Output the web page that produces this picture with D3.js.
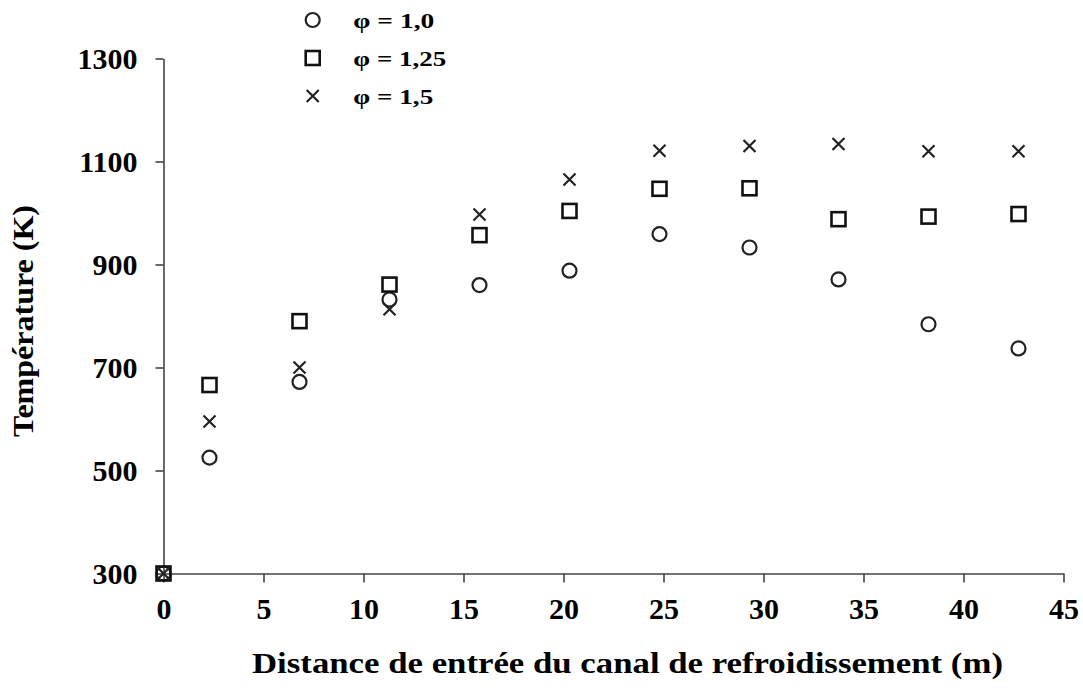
<!DOCTYPE html>
<html>
<head>
<meta charset="utf-8">
<script src="https://cdn.jsdelivr.net/npm/d3@7"></script>
<style>
  html, body { margin: 0; padding: 0; background: #fff; }
  svg { display: block; }
  text { font-family: "Liberation Serif", "Times New Roman", serif; font-weight: bold; fill: #000; }
</style>
</head>
<body>
<svg id="chart" width="1083" height="688"></svg>
<script>
// ---- data ----
const distances = [0, 2.3, 6.8, 11.3, 15.8, 20.3, 24.8, 29.3, 33.75, 38.25, 42.75];
const tempPhi10  = [300, 525, 672, 832, 860, 888, 959, 933, 871, 784, 737];
const tempPhi125 = [300, 666, 790, 861, 957, 1004, 1047, 1048, 988, 993, 998];
const tempPhi15  = [300, 595, 700, 813, 997, 1065, 1121, 1130, 1134, 1120, 1120];
const seriesLabels = ["φ = 1,0", "φ = 1,25", "φ = 1,5"];
const xTicks = [0, 5, 10, 15, 20, 25, 30, 35, 40, 45];
const yTicks = [300, 500, 700, 900, 1100, 1300];
const xTitle = "Distance de entrée du canal de refroidissement (m)";
const yTitle = "Température (K)";

const svg = d3.select("#chart");
const ink = "#222";
const axisCol = "#444";

const x = d3.scaleLinear().domain([0, 45]).range([163.5, 1063.5]);
const y = d3.scaleLinear().domain([300, 1300]).range([573.5, 58.5]);

// axes
const gx = svg.append("g").attr("transform", `translate(0,${y(300)})`)
  .call(d3.axisBottom(x).tickValues(xTicks).tickSize(9).tickSizeOuter(0).tickFormat(d3.format("d")));
gx.select(".domain").attr("stroke", axisCol).attr("stroke-width", 1.6);
gx.selectAll(".tick line").attr("stroke", axisCol).attr("stroke-width", 1.6);
gx.selectAll(".tick text").attr("y", 45).attr("dy", 0).attr("font-size", 30)
  .attr("font-family", "Liberation Serif").attr("font-weight", "bold").attr("fill", "#000");

const gy = svg.append("g").attr("transform", `translate(${x(0)},0)`)
  .call(d3.axisLeft(y).tickValues(yTicks).tickSize(8).tickSizeOuter(0).tickPadding(18).tickFormat(d3.format("d")));
gy.select(".domain").attr("stroke", axisCol).attr("stroke-width", 1.6);
gy.selectAll(".tick line").attr("stroke", axisCol).attr("stroke-width", 1.6);
gy.selectAll(".tick text").attr("dy", "0.34em").attr("font-size", 30)
  .attr("font-family", "Liberation Serif").attr("font-weight", "bold").attr("fill", "#000");

// titles
svg.append("text").attr("x", 627.5).attr("y", 673).attr("text-anchor", "middle")
  .attr("font-size", 30).attr("textLength", 751).attr("lengthAdjust", "spacingAndGlyphs")
  .text(xTitle);
svg.append("text").attr("transform", "translate(33,321) rotate(-90)").attr("text-anchor", "middle")
  .attr("font-size", 29).attr("textLength", 232).attr("lengthAdjust", "spacingAndGlyphs")
  .text(yTitle);

// marker drawers
function drawCircle(g, cx, cy) {
  g.append("circle").attr("cx", cx).attr("cy", cy).attr("r", 7)
    .attr("fill", "none").attr("stroke", ink).attr("stroke-width", 2.2);
}
function drawSquare(g, cx, cy) {
  g.append("rect").attr("x", cx - 7).attr("y", cy - 7).attr("width", 14).attr("height", 14)
    .attr("fill", "none").attr("stroke", "#111").attr("stroke-width", 2.6);
}
function drawCross(g, cx, cy) {
  const s = 6;
  g.append("path").attr("d", `M${cx - s},${cy - s}L${cx + s},${cy + s}M${cx - s},${cy + s}L${cx + s},${cy - s}`)
    .attr("stroke", ink).attr("stroke-width", 2.2).attr("fill", "none");
}
const drawers = [drawCircle, drawSquare, drawCross];
const seriesData = [tempPhi10, tempPhi125, tempPhi15];

const plot = svg.append("g");
seriesData.forEach((vals, si) => {
  const g = plot.append("g");
  vals.forEach((v, i) => drawers[si](g, x(distances[i]), y(v)));
});

// legend
const legend = svg.append("g");
const legendY = [20, 58, 96];
const legendW = [81, 93, 80];
seriesLabels.forEach((lab, i) => {
  drawers[i](legend, 312.7, legendY[i]);
  const t = legend.append("text").attr("x", 0).attr("y", 0)
    .attr("font-size", 21).text(lab);
  const w = t.node().getComputedTextLength();
  const sx = w > 0 ? legendW[i] / w : 1;
  t.attr("transform", `translate(353.3,${legendY[i] + 7.5}) scale(${sx},1)`);
});
</script>
</body>
</html>
